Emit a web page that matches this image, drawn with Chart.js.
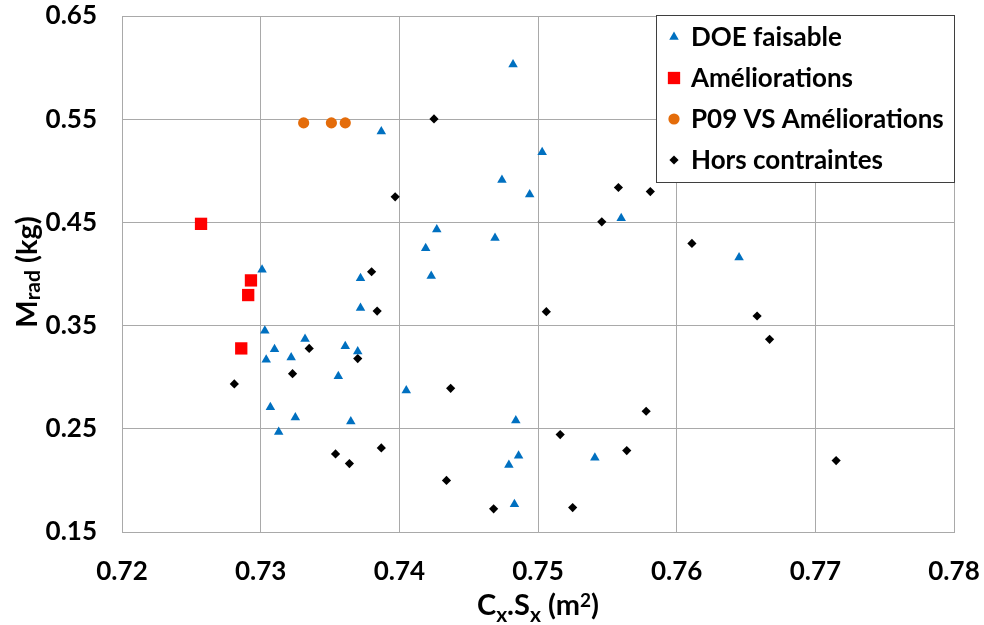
<!DOCTYPE html>
<html>
<head>
<meta charset="utf-8">
<script src="https://cdn.jsdelivr.net/npm/chart.js@4.4.1/dist/chart.umd.min.js"></script>
<style>
  html, body { margin: 0; padding: 0; background: #ffffff; }
  #wrap { width: 984px; height: 625px; position: relative; }
</style>
</head>
<body>
<div id="wrap"><canvas id="c" width="984" height="625"></canvas></div>
<script>
// Axis ranges and tick labels
const xTickValues = [0.72, 0.73, 0.74, 0.75, 0.76, 0.77, 0.78];
const yTickValues = [0.15, 0.25, 0.35, 0.45, 0.55, 0.65];

// Series: Cx.Sx (m²) and Mrad (kg)
const doeCx   = [0.7482, 0.7503, 0.7474, 0.7494, 0.7387, 0.7427, 0.7419, 0.7469, 0.7423, 0.7560, 0.7645,
                 0.7301, 0.7372, 0.7372, 0.7303, 0.7332, 0.7310, 0.7304, 0.7322, 0.7361, 0.7370, 0.7356,
                 0.7405, 0.7307, 0.7325, 0.7365, 0.7313, 0.7484, 0.7486, 0.7479, 0.7541, 0.7483];
const doeMrad = [0.603, 0.518, 0.491, 0.477, 0.538, 0.443, 0.425, 0.435, 0.398, 0.454, 0.416,
                 0.404, 0.396, 0.367, 0.345, 0.337, 0.327, 0.317, 0.319, 0.330, 0.325, 0.301,
                 0.287, 0.271, 0.261, 0.257, 0.247, 0.258, 0.224, 0.215, 0.222, 0.177];

const amelCx   = [0.7257, 0.7293, 0.7291, 0.7286];
const amelMrad = [0.4486, 0.3938, 0.3796, 0.3279];

const p09Cx   = [0.7331, 0.7351, 0.7361];
const p09Mrad = [0.5464, 0.5464, 0.5464];

const horsCx   = [0.7425, 0.7397, 0.7558, 0.7581, 0.7546, 0.7611, 0.7380, 0.7384, 0.7506, 0.7658, 0.7667,
                  0.7335, 0.7370, 0.7323, 0.7281, 0.7437, 0.7578, 0.7516, 0.7564, 0.7387, 0.7354, 0.7364,
                  0.7715, 0.7434, 0.7468, 0.7525];
const horsMrad = [0.5503, 0.4748, 0.4838, 0.4799, 0.4506, 0.4296, 0.4022, 0.3641, 0.3635, 0.3593, 0.3367,
                  0.3279, 0.3180, 0.3034, 0.2935, 0.2892, 0.2670, 0.2444, 0.2289, 0.2315, 0.2257, 0.2163,
                  0.2192, 0.2000, 0.1725, 0.1737];

const seriesLabels = ['DOE faisable', 'Améliorations', 'P09 VS Améliorations', 'Hors contraintes'];

const FONT = 'Lato, "Open Sans", sans-serif';
const GRID = '#a9a9a9';

const pts = (xs, ys) => xs.map((x, i) => ({ x: x, y: ys[i] }));

// Boxed legend inside the plot, top-right
const boxLegend = {
  id: 'boxLegend',
  afterDraw(chart) {
    const ctx = chart.ctx;
    const area = chart.chartArea;
    const bx = 656.5, by = 15.5, bw = Math.round(area.right) - 656, bh = 167;
    ctx.save();
    ctx.fillStyle = '#ffffff';
    ctx.fillRect(bx, by, bw, bh);
    ctx.strokeStyle = '#3f3f3f';
    ctx.lineWidth = 1;
    ctx.strokeRect(bx, by, bw, bh);
    ctx.font = 'bold 26px ' + FONT;
    ctx.textBaseline = 'middle';
    ctx.textAlign = 'left';
    chart.data.datasets.forEach((ds, i) => {
      const cy = 37 + i * 41;
      ctx.fillStyle = ds.backgroundColor;
      ctx.strokeStyle = ds.backgroundColor;
      Chart.helpers.drawPoint(ctx, {
        pointStyle: ds.pointStyle, radius: ds.pointRadius, rotation: 0, borderWidth: 0
      }, 674, cy);
      ctx.fillStyle = '#000000';
      ctx.fillText(ds.label, 691, cy + 1);
    });
    ctx.restore();
  }
};

// Axis titles with sub/superscripts
function drawRuns(ctx, runs, cx, cy) {
  let total = 0;
  runs.forEach(r => { ctx.font = 'bold ' + r.size + 'px ' + FONT; r.w = ctx.measureText(r.t).width; total += r.w; });
  let x = cx - total / 2;
  runs.forEach(r => {
    ctx.font = 'bold ' + r.size + 'px ' + FONT;
    ctx.fillText(r.t, x, cy + (r.dy || 0));
    x += r.w;
  });
}

const axisTitles = {
  id: 'axisTitles',
  afterDraw(chart) {
    const ctx = chart.ctx;
    const area = chart.chartArea;
    ctx.save();
    ctx.fillStyle = '#000000';
    ctx.textBaseline = 'alphabetic';
    ctx.textAlign = 'left';
    // x title: Cx.Sx (m²)
    drawRuns(ctx, [
      { t: 'C', size: 29 }, { t: 'x', size: 21, dy: 7 },
      { t: '.S', size: 29 }, { t: 'x', size: 21, dy: 7 },
      { t: ' (m', size: 29 }, { t: '2', size: 19, dy: -8 }, { t: ')', size: 29 }
    ], (area.left + area.right) / 2, 615);
    // y title: Mrad (kg)
    ctx.translate(37, (area.top + area.bottom) / 2 - 2);
    ctx.rotate(-Math.PI / 2);
    drawRuns(ctx, [
      { t: 'M', size: 29 }, { t: 'rad', size: 21, dy: 3 }, { t: ' (kg)', size: 29 }
    ], 0, 0);
    ctx.restore();
  }
};

new Chart(document.getElementById('c'), {
  type: 'scatter',
  data: {
    datasets: [
      { label: seriesLabels[0], data: pts(doeCx, doeMrad), pointStyle: 'triangle', pointRadius: 5.5,
        backgroundColor: '#0070C0', borderWidth: 0 },
      { label: seriesLabels[1], data: pts(amelCx, amelMrad), pointStyle: 'rect', pointRadius: 8.7,
        backgroundColor: '#FF0000', borderWidth: 0 },
      { label: seriesLabels[2], data: pts(p09Cx, p09Mrad), pointStyle: 'circle', pointRadius: 5.6,
        backgroundColor: '#E46C0A', borderWidth: 0 },
      { label: seriesLabels[3], data: pts(horsCx, horsMrad), pointStyle: 'rectRot', pointRadius: 4.6,
        backgroundColor: '#000000', borderWidth: 0 }
    ]
  },
  options: {
    responsive: false,
    animation: false,
    events: [],
    layout: { padding: { top: 16, right: 30, bottom: 0, left: 0 } },
    plugins: { legend: { display: false }, tooltip: { enabled: false } },
    scales: {
      x: {
        type: 'linear',
        min: xTickValues[0], max: xTickValues[xTickValues.length - 1],
        afterBuildTicks(scale) { scale.ticks = xTickValues.map(v => ({ value: v })); },
        afterFit(scale) { scale.height = 93; scale.paddingLeft = 0; scale.paddingRight = 0; },
        grid: { color: GRID, lineWidth: 1, drawTicks: false },
        border: { color: GRID, width: 1 },
        ticks: {
          padding: 24, color: '#000000',
          font: { family: FONT, size: 26, weight: 'bold' },
          callback: v => Number(v).toFixed(2)
        }
      },
      y: {
        type: 'linear',
        min: yTickValues[0], max: yTickValues[yTickValues.length - 1],
        afterBuildTicks(scale) { scale.ticks = yTickValues.map(v => ({ value: v })); },
        afterFit(scale) { scale.width = 122; scale.paddingTop = 0; scale.paddingBottom = 0; },
        grid: { color: GRID, lineWidth: 1, drawTicks: false },
        border: { color: GRID, width: 1 },
        ticks: {
          padding: 25, color: '#000000',
          font: { family: FONT, size: 26, weight: 'bold' },
          callback: v => Number(v).toFixed(2)
        }
      }
    }
  },
  plugins: [boxLegend, axisTitles]
});
</script>
</body>
</html>
